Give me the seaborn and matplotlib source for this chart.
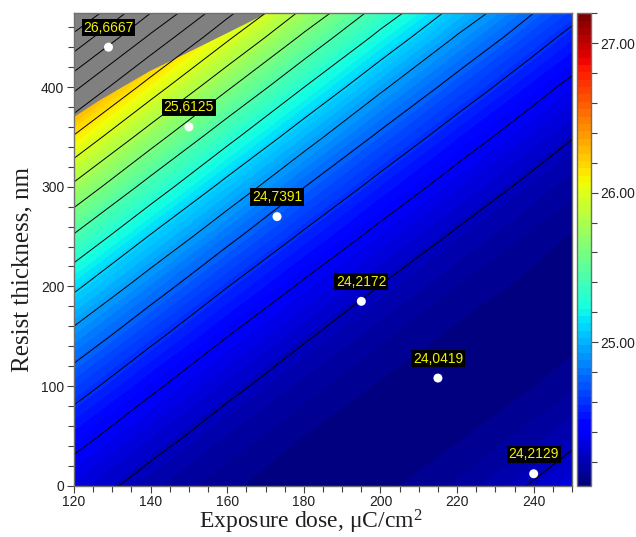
import numpy as np
import matplotlib
matplotlib.use("Agg")
import matplotlib.pyplot as plt
import seaborn as sns
import pandas as pd
from matplotlib.colors import Normalize
from matplotlib.cm import ScalarMappable
from matplotlib.ticker import MultipleLocator, FormatStrFormatter
from matplotlib.patches import Polygon

# ---------------- data ----------------
dose = [120, 140, 160, 180, 200, 220, 240, 250]          # x grid, uC/cm2
thickness = [0, 50, 100, 150, 200, 250, 300, 350, 400, 450, 474]  # y grid, nm
# surface values, one row per thickness, one column per dose
z_rows = [
    [24.296, 24.162, 24.077, 24.041, 24.055, 24.117, 24.228, 24.302],
    [24.449, 24.274, 24.147, 24.069, 24.040, 24.061, 24.130, 24.183],
    [24.639, 24.421, 24.252, 24.132, 24.062, 24.040, 24.068, 24.100],
    [24.864, 24.605, 24.394, 24.232, 24.119, 24.056, 24.041, 24.052],
    [25.126, 24.824, 24.571, 24.367, 24.213, 24.107, 24.051, 24.041],
    [25.423, 25.079, 24.785, 24.539, 24.342, 24.195, 24.096, 24.065],
    [25.757, 25.371, 25.034, 24.746, 24.508, 24.318, 24.177, 24.125],
    [26.126, 25.698, 25.319, 24.990, 24.709, 24.477, 24.295, 24.222],
    [26.531, 26.061, 25.641, 25.269, 24.946, 24.673, 24.448, 24.354],
    [26.972, 26.460, 25.998, 25.584, 25.219, 24.904, 24.637, 24.522],
    [27.197, 26.665, 26.182, 25.748, 25.363, 25.028, 24.741, 24.616],
]
contour_levels = [24.217, 24.392, 24.567, 24.742, 24.917, 25.092, 25.267,
                  25.442, 25.617, 25.792, 25.967, 26.142, 26.317, 26.492,
                  26.667, 26.842, 27.017, 27.192]
# measured points
pt_dose = [129, 150, 173, 195, 215, 240]
pt_thick = [440, 360, 270, 185, 108, 12]
pt_value = ["26,6667", "25,6125", "24,7391", "24,2172", "24,0419", "24,2129"]
# blanked (grey) region boundary
blank_dose = [120, 120, 126.8, 139.8, 149.4, 159.9, 170.3]
blank_thick = [474, 370, 387, 416, 434, 454, 474]

vmin, vmax = 24.04, 27.2

# ---------------- figure ----------------
sns.set_style("ticks")
plt.rcParams["font.family"] = ["Liberation Sans", "DejaVu Sans"]
plt.rcParams["mathtext.fontset"] = "custom"
plt.rcParams["mathtext.rm"] = "Liberation Serif"
plt.rcParams["mathtext.default"] = "regular"

fig = plt.figure(figsize=(6.36, 5.37), dpi=100)
W, H = 636, 537
ax = fig.add_axes([74 / W, 1 - 485.7 / H, (572 - 74) / W, (485.7 - 13.3) / H])
cax = fig.add_axes([577 / W, 1 - 485.7 / H, 14 / W, (485.7 - 13.3) / H])

X, Y = np.meshgrid(dose, thickness)
Z = np.array(z_rows)
cmap = plt.get_cmap("jet", 64)
fill_levels = np.linspace(24.03, 27.21, 80)
ax.contourf(X, Y, Z, levels=fill_levels, cmap="jet", vmin=vmin, vmax=vmax, zorder=1)

ax.add_patch(Polygon(np.column_stack([blank_dose, blank_thick]), closed=True,
                     fc="#808080", ec="none", zorder=1.5))

ax.contour(X, Y, Z, levels=contour_levels, colors="black", linewidths=0.7, zorder=2)

df = pd.DataFrame({"dose": pt_dose, "thickness": pt_thick, "label": pt_value})
sns.scatterplot(data=df, x="dose", y="thickness", color="white", s=42,
                edgecolor="none", ax=ax, zorder=5, legend=False)
for _, r in df.iterrows():
    ax.annotate(r["label"], (r["dose"], r["thickness"]), xytext=(0, 9),
                textcoords="offset points", ha="center", va="bottom",
                color="#F2F200", fontsize=10, zorder=6,
                bbox=dict(boxstyle="square,pad=0.12", fc="black", ec="none"))

ax.set_xlim(120, 250)
ax.set_ylim(0, 474)
ax.xaxis.set_major_locator(MultipleLocator(20))
ax.xaxis.set_minor_locator(MultipleLocator(5))
ax.yaxis.set_major_locator(MultipleLocator(100))
ax.yaxis.set_minor_locator(MultipleLocator(20))
ax.tick_params(which="major", length=5, width=0.8, color="#404040",
               labelsize=10, labelcolor="#202020", pad=2)
ax.tick_params(which="minor", length=4, width=0.8, color="#404040")
for s in ax.spines.values():
    s.set_color("#707070")
    s.set_linewidth(1.0)

ax.set_xlabel(r"Exposure dose, μC/cm$^{2}$", family="Liberation Serif",
              fontsize=17, color="#202020")
ax.xaxis.set_label_coords(0.476, -0.0475)
ax.set_ylabel("Resist thickness, nm", family="Liberation Serif",
              fontsize=18, color="#202020")
ax.yaxis.set_label_coords(-0.082, 0.457)

cb = fig.colorbar(ScalarMappable(norm=Normalize(vmin, vmax), cmap=cmap), cax=cax)
cb.set_ticks([25, 26, 27])
cb.ax.yaxis.set_major_formatter(FormatStrFormatter("%.2f"))
cb.ax.yaxis.set_minor_locator(MultipleLocator(0.2))
cb.ax.tick_params(which="major", length=5, width=0.8, color="#404040",
                  labelsize=10, labelcolor="#202020", pad=2)
cb.ax.tick_params(which="minor", length=4, width=0.8, color="#404040")
cb.outline.set_edgecolor("#707070")
cb.outline.set_linewidth(1.0)

fig.savefig("out.png", dpi=100)
